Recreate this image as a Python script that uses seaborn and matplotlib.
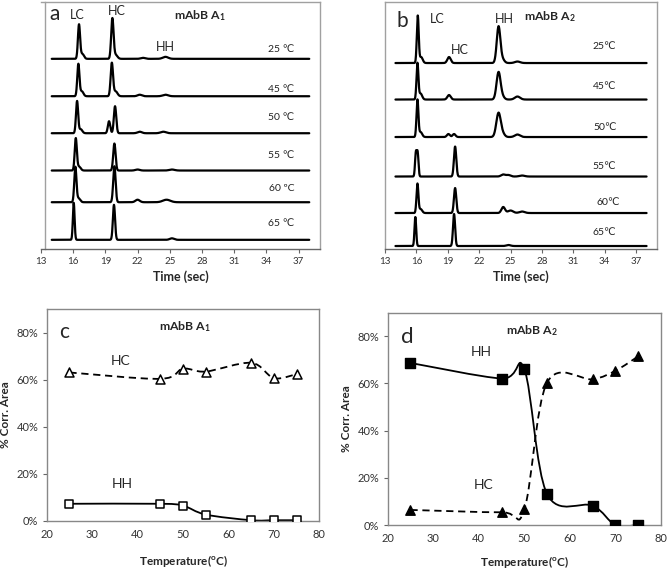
import numpy as np
import matplotlib
matplotlib.use("Agg")
import matplotlib.pyplot as plt
from matplotlib.path import Path
from matplotlib.patches import PathPatch
from matplotlib.ticker import PercentFormatter
import seaborn as sns

sns.set_style("white")
plt.rcParams['font.family'] = ['Lato', 'DejaVu Sans']
plt.rcParams['mathtext.fontset'] = 'custom'
plt.rcParams['mathtext.rm'] = 'Lato'
plt.rcParams['mathtext.bf'] = 'Lato:bold'
plt.rcParams['mathtext.it'] = 'Lato:italic'

# ---- panels a/b: chromatogram peaks (time, height, width) ----
temps_a = ['25 ℃', '45 ℃', '50 ℃', '55 ℃', '60 ºC', '65 ℃']
offsets_a = [189.7, 152.3, 115.3, 78.0, 46.3, 8.7]
peaks_a = [
    [(16.54, 34, 0.10), (16.85, 5, 0.15), (19.65, 40, 0.11), (19.95, 4, 0.17), (22.5, 1.0, 0.2), (24.6, 2.0, 0.25)],
    [(16.48, 32, 0.10), (16.80, 5, 0.15), (19.60, 33, 0.11), (19.95, 5, 0.17), (22.2, 1.5, 0.2), (24.6, 1.5, 0.25)],
    [(16.36, 32, 0.10), (16.70, 4, 0.15), (19.34, 12, 0.11), (19.90, 27, 0.11), (22.2, 1.5, 0.2), (24.4, 1.5, 0.25)],
    [(16.24, 32, 0.10), (16.55, 4, 0.15), (19.84, 27, 0.11), (22.0, 1.0, 0.2), (25.2, 1.0, 0.25)],
    [(16.20, 35, 0.10), (16.50, 4, 0.15), (19.84, 36, 0.11), (22.0, 2.5, 0.2), (24.7, 2.5, 0.35)],
    [(16.05, 37, 0.08), (19.80, 35, 0.10), (25.2, 1.5, 0.2)],
]

temps_b = ['25℃', '45℃', '50℃', '55℃', '60℃', '65℃']
offsets_b = [185.5, 149.0, 111.5, 72.0, 35.5, 2.5]
peaks_b = [
    [(16.13, 47, 0.09), (16.45, 6, 0.15), (19.12, 6, 0.16), (23.85, 36, 0.17), (24.20, 4, 0.2), (25.66, 1.5, 0.25)],
    [(16.10, 36, 0.09), (16.40, 6, 0.15), (19.12, 4.5, 0.16), (23.85, 27, 0.19), (24.20, 3, 0.2), (25.66, 3.0, 0.25)],
    [(16.10, 37, 0.09), (16.40, 5, 0.15), (19.06, 3, 0.14), (19.60, 3, 0.14), (23.85, 24, 0.21), (24.25, 3, 0.2), (25.66, 2.5, 0.25)],
    [(15.95, 23, 0.08), (16.12, 23, 0.08), (19.70, 30, 0.11), (24.3, 2.0, 0.2), (24.8, 1.5, 0.2), (26.1, 1.0, 0.25)],
    [(16.10, 29, 0.09), (16.40, 4, 0.15), (19.70, 25, 0.11), (24.3, 6.0, 0.17), (25.0, 2.5, 0.25), (26.1, 1.5, 0.25)],
    [(15.90, 29, 0.08), (19.60, 32, 0.10), (24.8, 1.0, 0.2)],
]

# ---- panels c/d: % corrected area vs temperature ----
temperature = [25, 45, 50, 55, 65, 70, 75]
c_hc = [63.1, 60.4, 64.7, 63.5, 67.2, 60.7, 62.4]
c_hh = [7.2, 7.2, 6.4, 2.6, 0.2, 0.2, 0.2]
d_hh = [68.7, 62.1, 66.0, 13.1, 8.2, 0.0, 0.0]
d_hc = [6.4, 5.4, 6.7, 60.4, 61.8, 65.4, 71.5]


def trace(t, peaks):
    y = np.zeros_like(t)
    for c, h, w in peaks:
        y += h * np.exp(-0.5 * ((t - c) / w) ** 2)
    return y


def smooth_path(x, y):
    # Excel-like smoothed line through the points (Catmull-Rom Bezier)
    pts = np.column_stack([x, y]).astype(float)
    n = len(pts)
    verts = [pts[0]]
    codes = [Path.MOVETO]
    for i in range(n - 1):
        p0 = pts[max(i - 1, 0)]
        p1, p2 = pts[i], pts[i + 1]
        p3 = pts[min(i + 2, n - 1)]
        verts += [p1 + (p2 - p0) / 6, p2 - (p3 - p1) / 6, p2]
        codes += [Path.CURVE4] * 3
    return Path(verts, codes)


fig = plt.figure(figsize=(6.69, 5.70), dpi=100)
ax_a = fig.add_axes([0.0613, 0.5640, 0.4170, 0.4333])
ax_b = fig.add_axes([0.5755, 0.5640, 0.4066, 0.4333])
ax_c = fig.add_axes([0.0698, 0.0865, 0.4075, 0.3709])
ax_d = fig.add_axes([0.5795, 0.0789, 0.4085, 0.3725])

t = np.linspace(14, 38, 2000)

for ax, temps, offs, peaks in [(ax_a, temps_a, offsets_a, peaks_a), (ax_b, temps_b, offsets_b, peaks_b)]:
    for off, pk in zip(offs, peaks):
        sns.lineplot(x=t, y=off + trace(t, pk), color='black', lw=1.6, ax=ax,
                     estimator=None, sort=False)
    ax.set_xlim(13, 39)
    ax.set_ylim(0, 247)
    ax.set_xticks(range(13, 38, 3))
    ax.set_yticks([])
    ax.tick_params(axis='x', bottom=True, length=3, width=0.8, color='#666666',
                   labelsize=7, labelcolor='#333333', pad=3)
    for s in ax.spines.values():
        s.set_color('#a0a0a0')
        s.set_linewidth(1.0)
    ax.spines['bottom'].set_color('#666666')
    ax.set_xlabel('Time (sec)', fontsize=9, fontweight='bold', labelpad=3)

ax_a.spines['left'].set_position(('data', 13.4))

# panel a labels
ax_a.text(14.3, 234.7, 'a', fontsize=15, ha='center', va='center')
ax_a.text(16.35, 234, 'LC', fontsize=9, ha='center', va='center')
ax_a.text(20.1, 238, 'HC', fontsize=9, ha='center', va='center')
ax_a.text(24.63, 201.3, 'HH', fontsize=9, ha='center', va='center')
ax_a.text(27.8, 233, r'mAbB A$_\mathbf{1}$', fontsize=8.8, fontweight='bold', ha='center', va='center')
for lab, y in zip(temps_a, [199, 158.7, 130.7, 93, 59.7, 25.3]):
    ax_a.text(35.4, y, lab, fontsize=7.5, ha='center', va='center', color='#222222')

# panel b labels
ax_b.text(14.7, 228, 'b', fontsize=15, ha='center', va='center')
ax_b.text(17.95, 230, 'LC', fontsize=9, ha='center', va='center')
ax_b.text(24.42, 230, 'HH', fontsize=9, ha='center', va='center')
ax_b.text(20.18, 199, 'HC', fontsize=9, ha='center', va='center')
ax_b.text(28.8, 231.8, r'mAbB A$_\mathbf{2}$', fontsize=8.8, fontweight='bold', ha='center', va='center')
for lab, x, y in zip(temps_b, [34.0, 34.0, 34.0, 34.0, 34.3, 34.0], [202.3, 162, 121.3, 82.3, 46, 16.3]):
    ax_b.text(x, y, lab, fontsize=7.5, ha='center', va='center', color='#222222')

# ---- panels c/d ----
def line(ax, x, y, dashed):
    ls = (0, (4, 2.6)) if dashed else '-'
    ax.add_patch(PathPatch(smooth_path(x, y), fill=False, lw=1.3, ls=ls,
                           edgecolor='black', zorder=2))

line(ax_c, temperature, c_hc, True)
line(ax_c, temperature, c_hh, False)
sns.scatterplot(x=temperature, y=c_hc, marker='^', s=42, color='white', edgecolor='black',
                linewidth=1.1, zorder=3, ax=ax_c)
sns.scatterplot(x=temperature, y=c_hh, marker='s', s=36, color='white', edgecolor='black',
                linewidth=1.1, zorder=3, ax=ax_c)

line(ax_d, temperature, d_hh, False)
line(ax_d, temperature, d_hc, True)
sns.scatterplot(x=temperature, y=d_hh, marker='s', s=42, color='black', edgecolor='black',
                linewidth=1.0, zorder=3, ax=ax_d)
sns.scatterplot(x=temperature, y=d_hc, marker='^', s=46, color='black', edgecolor='black',
                linewidth=1.0, zorder=3, ax=ax_d)

for ax in (ax_c, ax_d):
    ax.set_xlim(20, 80)
    ax.set_ylim(0, 90)
    ax.set_xticks(range(20, 81, 10))
    ax.set_yticks([0, 20, 40, 60, 80])
    ax.yaxis.set_major_formatter(PercentFormatter(100, decimals=0))
    ax.tick_params(axis='both', labelsize=8, labelcolor='#333333', left=True,
                   length=3, width=0.8, color='#666666', pad=3)
    for s in ax.spines.values():
        s.set_color('#888888')
        s.set_linewidth(1.0)
    ax.set_ylabel('% Corr. Area', fontsize=8.5, fontweight='bold', labelpad=4)

ax_c.set_xlabel(r'Temperature($^\mathbf{o}$C)', fontsize=8.5, fontweight='bold', labelpad=9)
ax_d.set_xlabel(r'Temperature($^\mathbf{o}$C)', fontsize=8.5, fontweight='bold', labelpad=7)

ax_c.text(23.9, 80.4, 'c', fontsize=15, ha='center', va='center')
ax_c.text(50.4, 82.6, r'mAbB A$_\mathbf{1}$', fontsize=8.8, fontweight='bold', ha='center', va='center')
ax_c.text(36.3, 68, 'HC', fontsize=10, ha='center', va='center')
ax_c.text(36.6, 15.6, 'HH', fontsize=10, ha='center', va='center')

ax_d.text(24.4, 79.6, 'd', fontsize=16, ha='center', va='center')
ax_d.text(51.6, 82.4, r'mAbB A$_\mathbf{2}$', fontsize=8.8, fontweight='bold', ha='center', va='center')
ax_d.text(40.6, 73.2, 'HH', fontsize=10, ha='center', va='center')
ax_d.text(41.1, 17, 'HC', fontsize=10, ha='center', va='center')

fig.savefig('out.png', dpi=100)
